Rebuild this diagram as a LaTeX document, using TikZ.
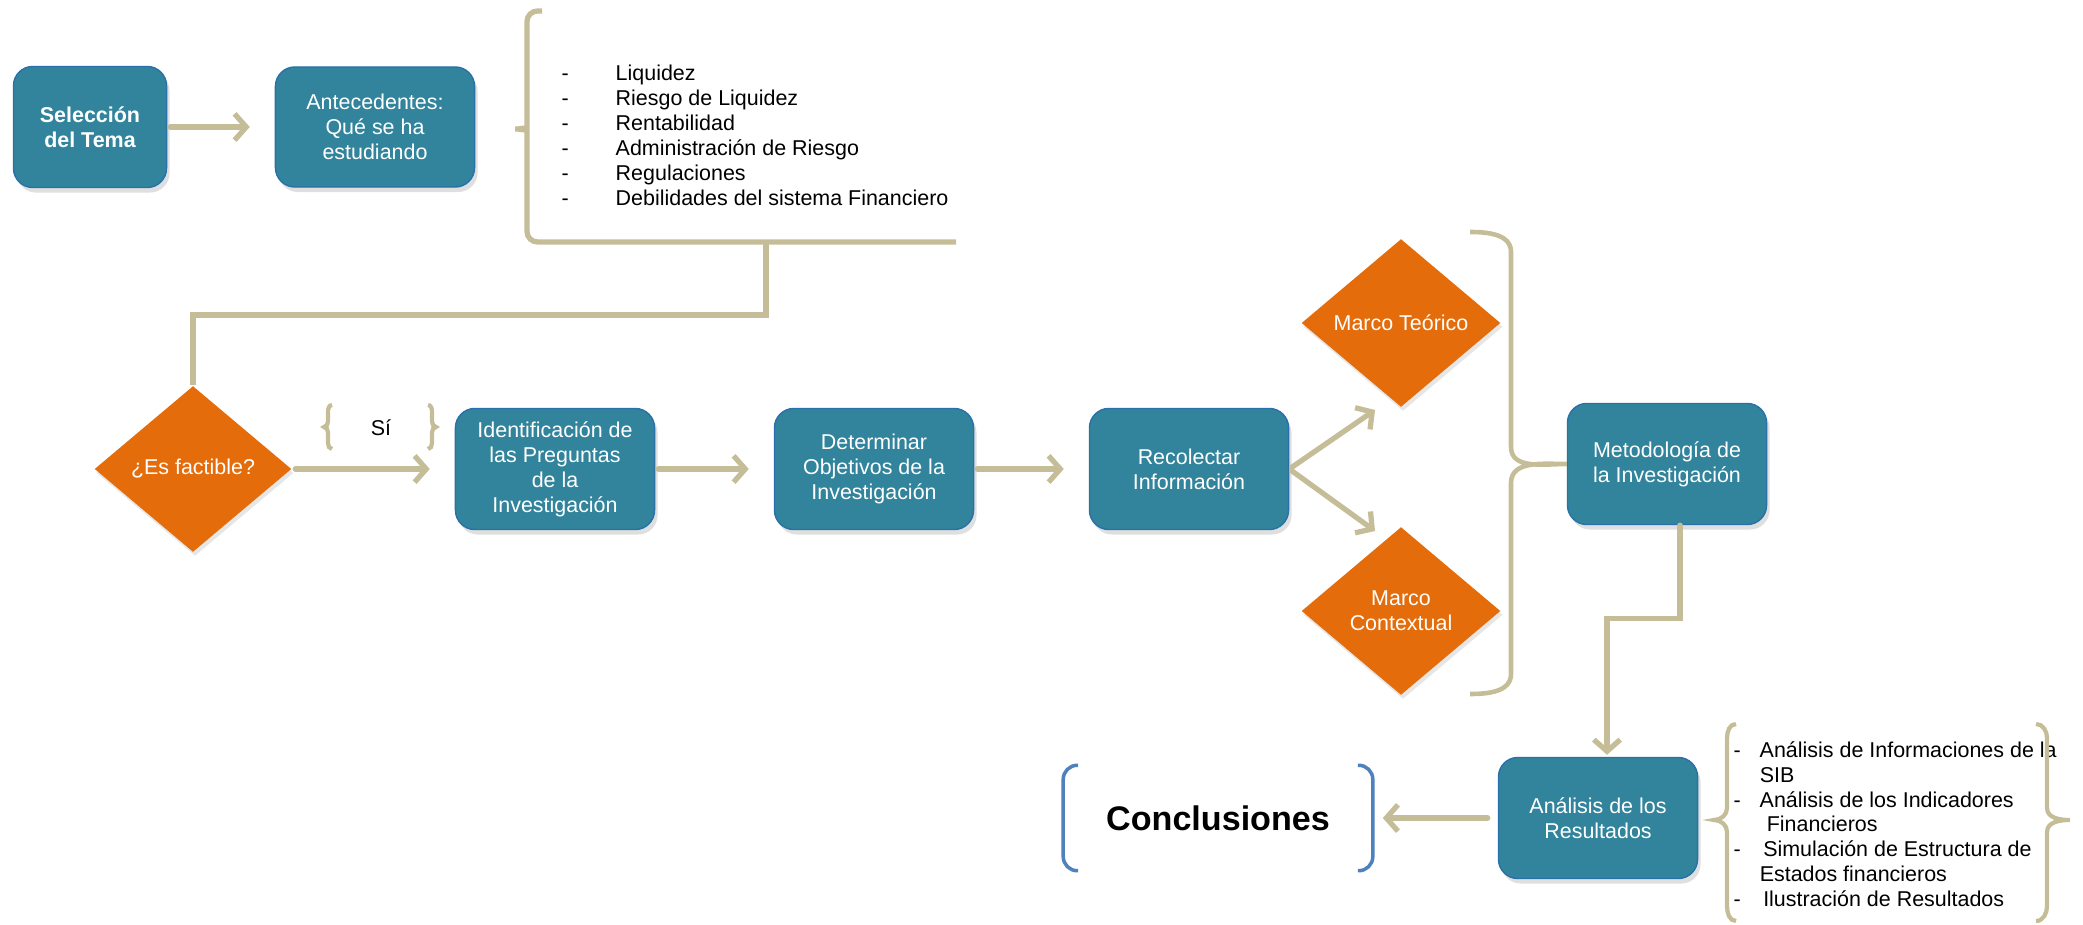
\documentclass[tikz,border=0pt]{standalone}
\usepackage{fontspec}
\setmainfont{Liberation Sans}
\usetikzlibrary{shapes.geometric,arrows.meta,shadows}
\definecolor{cajaazul}{HTML}{31849B}
\definecolor{rombonar}{HTML}{E46C0A}
\definecolor{lineatan}{HTML}{C4BD97}
\definecolor{corcheteazul}{HTML}{4F81BD}

\begin{document}
\begin{tikzpicture}[x=0.01cm,y=-0.01cm,
  caja/.style={rectangle,rounded corners=5.5pt,fill=cajaazul,draw=cajaazul!85!blue,thin,text=white,align=center,
    minimum width=1.99cm,minimum height=1.21cm,inner sep=1pt,font=\fontsize{6.1}{7.1}\selectfont,
    drop shadow={shadow xshift=0.03cm,shadow yshift=-0.05cm,opacity=0.25}},
  rombo/.style={diamond,fill=rombonar,text=white,align=center,inner sep=0pt,
    minimum width=1.99cm,minimum height=1.68cm,font=\fontsize{6.1}{7.1}\selectfont,
    drop shadow={shadow xshift=0.02cm,shadow yshift=-0.04cm,opacity=0.2}},
  linea/.style={draw=lineatan,line width=1.5pt},
  flecha/.style={linea,line cap=round,-{Straight Barb[length=3.3pt,width=7.5pt]},shorten >=0.25cm,shorten <=0.03cm},
  llave/.style={draw=lineatan,line width=1.2pt},
  texto/.style={font=\fontsize{6.1}{7.1}\selectfont,inner sep=0pt}]
\useasboundingbox (0,0) rectangle (2083,925);

% fila de arriba
\node[caja,font=\fontsize{6.1}{7.1}\selectfont\bfseries,minimum width=1.53cm] (sel) at (90,127) {Selección\\del Tema};
\node[caja,minimum height=1.2cm] (ant) at (375,127) {Antecedentes:\\Qué se ha\\estudiando};
\node[texto,anchor=west] (lista) at (561,138) {\begin{tabular}{@{}p{0.54cm}@{}l@{}}
-&Liquidez\\
-&Riesgo de Liquidez\\
-&Rentabilidad\\
-&Administración de Riesgo\\
-&Regulaciones\\
-&Debilidades del sistema Financiero
\end{tabular}};
\draw[flecha] (sel) -- (ant);
\draw[linea,rounded corners=3pt] (542,11) -- (527,11) -- (527,119) to[out=-90,in=0] (509,129)
  to[out=0,in=90] (527,139) -- (527,242) -- (956,242);
\coordinate (brk) at (766,242);

% fila del medio
\node[rombo,minimum width=1.97cm,minimum height=1.66cm] (fact) at (193,469) {¿Es factible?};
\node[texto] (si) at (381,428) {Sí};
\draw[llave] (332,405) to[out=180,in=90] (328,412) -- (328,421) to[out=-90,in=0] (324,427)
  to[out=0,in=90] (328,433) -- (328,443) to[out=-90,in=180] (332,449);
\draw[llave] (428,405) to[out=0,in=90] (432,412) -- (432,421) to[out=-90,in=180] (436,427)
  to[out=180,in=90] (432,433) -- (432,443) to[out=-90,in=0] (428,449);
\node[caja] (ident) at (555,469) {Identificación de\\las Preguntas\\de la\\Investigación};
\node[caja] (det) at (874,469) {Determinar\\Objetivos de la\\Investigación};
\node[caja] (rec) at (1189,469) {Recolectar\\Información};
\node[rombo] (teo) at (1401,323) {Marco Teórico};
\node[rombo] (ctx) at (1401,611) {Marco\\Contextual};
\node[caja] (met) at (1667,464) {Metodología de\\la Investigación};
\coordinate (teoin) at (1375,410);
\coordinate (ctxin) at (1375,531);

\draw[linea] (brk) -- ++(0,73) -| (fact.north);
\draw[flecha] (fact) -- (ident);
\draw[flecha] (ident) -- (det);
\draw[flecha] (det) -- (rec);
\draw[flecha,shorten >=0pt] (rec.east) -- (teoin);
\draw[flecha,shorten >=0pt] (rec.east) -- (ctxin);
\draw[linea,line width=1.3pt] (1470,232) to[out=0,in=90] (1511,252) -- (1511,447) to[out=-90,in=180] (met.west)
  to[out=180,in=90] (1511,483) -- (1511,674) to[out=-90,in=0] (1470,694);

% fila de abajo
\node[caja] (ana) at (1598,818) {Análisis de los\\Resultados};
\node[font=\fontsize{9.7}{11}\selectfont\bfseries,minimum width=3.08cm,minimum height=1.04cm,inner sep=0pt] (concl) at (1218,818) {Conclusiones};
\draw[corcheteazul,line width=1pt,rounded corners=4pt] ([xshift=0.15cm]concl.north west) -- (concl.north west)
  -- (concl.south west) -- ([xshift=0.15cm]concl.south west);
\draw[corcheteazul,line width=1pt,rounded corners=4pt] ([xshift=-0.15cm]concl.north east) -- (concl.north east)
  -- (concl.south east) -- ([xshift=-0.15cm]concl.south east);
\node[texto,anchor=west] (listados) at (1733,827) {\begin{tabular}{@{}p{0.26cm}@{}l@{}}
-&Análisis de Informaciones de la\\
&SIB\\
-&Análisis de los Indicadores\\
&\hspace{2pt}Financieros\\
-&\hspace{1pt}Simulación de Estructura de\\
&Estados financieros\\
-&\hspace{1pt}Ilustración de Resultados
\end{tabular}};
\draw[llave] (1736,724) to[out=180,in=90] (1727,738) -- (1727,808) to[out=-90,in=0] (1714,820)
  to[out=0,in=90] (1727,832) -- (1727,906) to[out=-90,in=180] (1736,921);
\draw[llave] (2036,724) to[out=0,in=90] (2047,738) -- (2047,808) to[out=-90,in=180] (2070,820)
  to[out=180,in=90] (2047,832) -- (2047,906) to[out=-90,in=0] (2036,921);

\draw[flecha,shorten >=0.02cm,shorten <=0pt] ([xshift=0.13cm]met.south) -- ++(0,93) -| ([xshift=0.09cm]ana.north);
\draw[flecha,shorten <=0.1cm,shorten >=0.1cm] (ana.west) -- (concl.east);
\end{tikzpicture}
\end{document}
